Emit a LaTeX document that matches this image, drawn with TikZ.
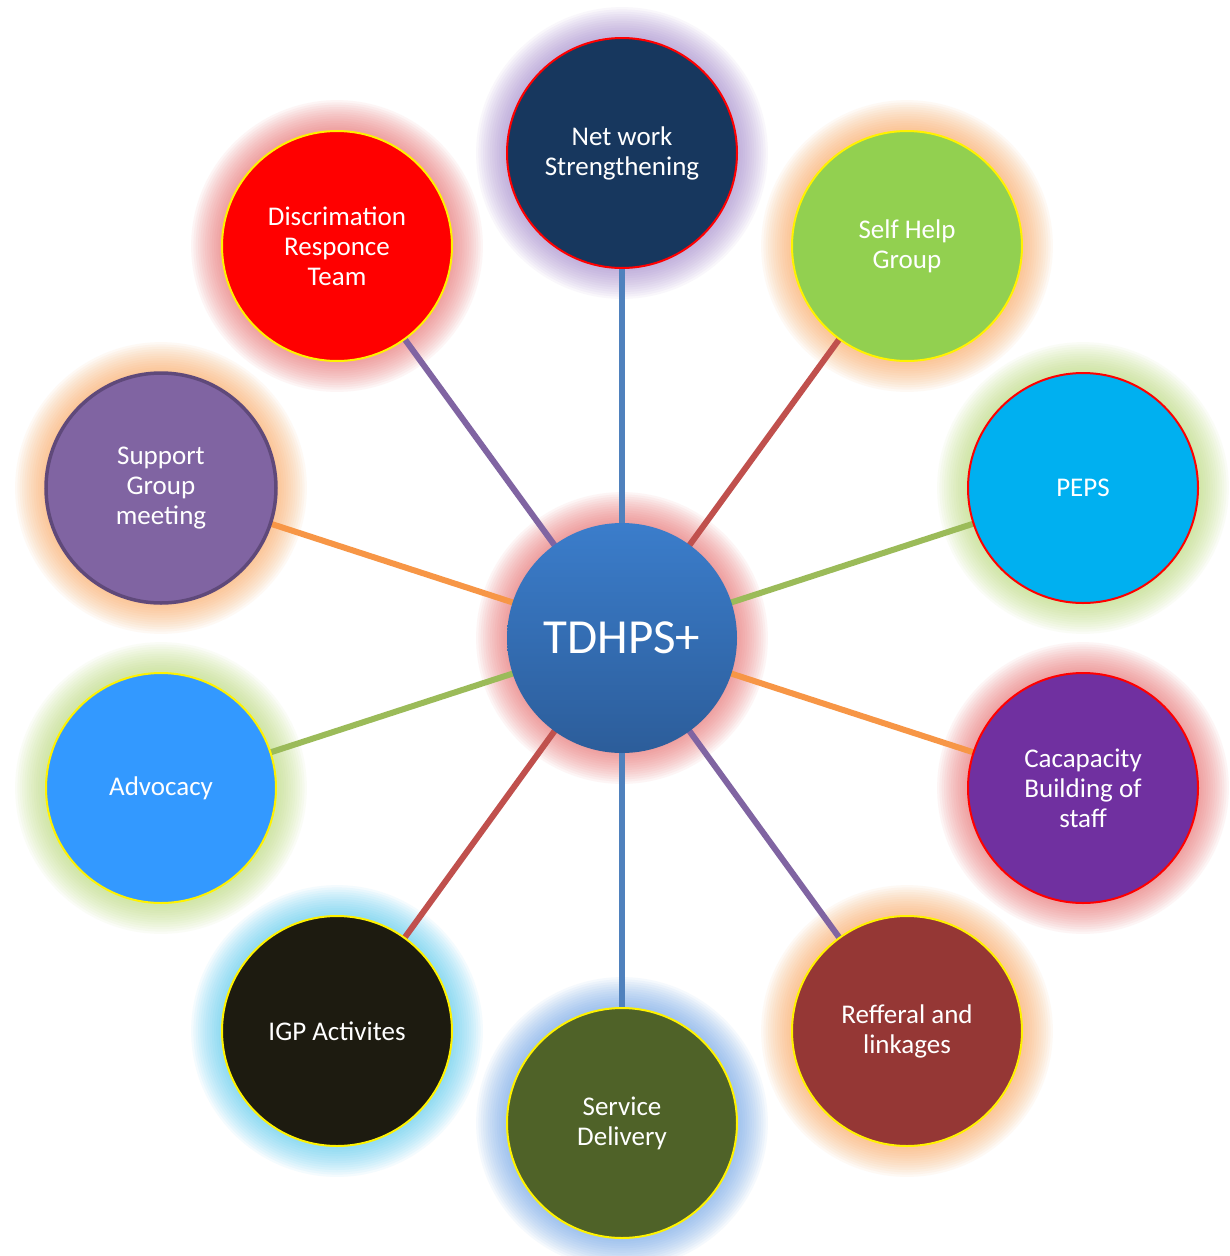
\documentclass[tikz,border=0pt]{standalone}
\usepackage{fontspec}
\setmainfont{Carlito}
\pgfdeclarelayer{bglayer}
\pgfdeclarelayer{glowlayer}
\pgfdeclarelayer{linelayer}
\pgfsetlayers{bglayer,glowlayer,linelayer,main}
\definecolor{cBlue}{HTML}{4F81BD}
\definecolor{cRed}{HTML}{C0504D}
\definecolor{cGreen}{HTML}{9BBB59}
\definecolor{cOrange}{HTML}{F79646}
\definecolor{cPurple}{HTML}{8064A2}
\definecolor{gPurple}{HTML}{9A7CC8}
\definecolor{gOrange}{HTML}{FBA050}
\definecolor{gGreen}{HTML}{B5D96A}
\definecolor{gRed}{HTML}{E86060}
\definecolor{gBlue}{HTML}{5F9CE6}
\definecolor{gCyan}{HTML}{45C6F0}
\definecolor{fNavy}{HTML}{17375E}
\definecolor{fGreen}{HTML}{92D050}
\definecolor{fCyan}{HTML}{00B0F0}
\definecolor{fViolet}{HTML}{7030A0}
\definecolor{fBrown}{HTML}{953735}
\definecolor{fOlive}{HTML}{4F6228}
\definecolor{fBlack}{HTML}{1D1B10}
\definecolor{fBlue}{HTML}{3399FF}
\definecolor{fPurple}{HTML}{8064A2}
\definecolor{bPurple}{HTML}{5F497A}
\definecolor{fRed}{HTML}{FF0000}
\definecolor{cTop}{HTML}{3B7DCB}
\definecolor{cBot}{HTML}{2C5D9A}
\tikzset{
  bub/.style={circle, minimum size=230pt, inner sep=0pt, align=center,
    text=white, font=\fontsize{27}{30}\selectfont, line width=2pt},
  spoke/.style={line width=6pt},
}
\newcommand{\myglow}[2]{%
  \begin{pgfonlayer}{glowlayer}
    \foreach \i in {0,...,13} {
      \fill[#2, opacity=0.058] (#1.center) circle[radius={116pt+2.3pt*\i}];
    }
  \end{pgfonlayer}}
\begin{document}
\begin{tikzpicture}[x=1pt,y=-1pt]
\useasboundingbox (0,0) rectangle (1230,1256);
\begin{pgfonlayer}{bglayer}
\fill[white] (0,0) rectangle (1230,1256);
\end{pgfonlayer}

\node[bub, shading=axis, top color=cTop, bottom color=cBot, draw=none,
  font=\fontsize{49}{54}\selectfont] (c) at (622,638) {TDHPS+};

\node[bub, fill=fNavy, draw=red] (n0) at (622,153) {Net work\\Strengthening};
\node[bub, fill=fGreen, draw=yellow] (n1) at (907,246) {Self Help\\Group};
\node[bub, fill=fCyan, draw=red] (n2) at (1083,488) {PEPS};
\node[bub, fill=fViolet, draw=red] (n3) at (1083,788) {Cacapacity\\Building of\\staff};
\node[bub, fill=fBrown, draw=yellow] (n4) at (907,1031) {Refferal and\\linkages};
\node[bub, fill=fOlive, draw=yellow] (n5) at (622,1123) {Service\\Delivery};
\node[bub, fill=fBlack, draw=yellow] (n6) at (337,1031) {IGP Activites};
\node[bub, fill=fBlue, draw=yellow] (n7) at (161,788) {Advocacy};
\node[bub, fill=fPurple, draw=bPurple, line width=3.5pt] (n8) at (161,488) {Support\\Group\\meeting};
\node[bub, fill=fRed, draw=yellow] (n9) at (337,246) {Discrimation\\Responce\\Team};

\myglow{c}{gRed}
\myglow{n0}{gPurple}
\myglow{n1}{gOrange}
\myglow{n2}{gGreen}
\myglow{n3}{gRed}
\myglow{n4}{gOrange}
\myglow{n5}{gBlue}
\myglow{n6}{gCyan}
\myglow{n7}{gGreen}
\myglow{n8}{gOrange}
\myglow{n9}{gRed}

\begin{pgfonlayer}{linelayer}
  \draw[spoke, cBlue] (c.center) -- (n0.center);
  \draw[spoke, cRed] (c.center) -- (n1.center);
  \draw[spoke, cGreen] (c.center) -- (n2.center);
  \draw[spoke, cOrange] (c.center) -- (n3.center);
  \draw[spoke, cPurple] (c.center) -- (n4.center);
  \draw[spoke, cBlue] (c.center) -- (n5.center);
  \draw[spoke, cRed] (c.center) -- (n6.center);
  \draw[spoke, cGreen] (c.center) -- (n7.center);
  \draw[spoke, cOrange] (c.center) -- (n8.center);
  \draw[spoke, cPurple] (c.center) -- (n9.center);
\end{pgfonlayer}
\end{tikzpicture}
\end{document}
